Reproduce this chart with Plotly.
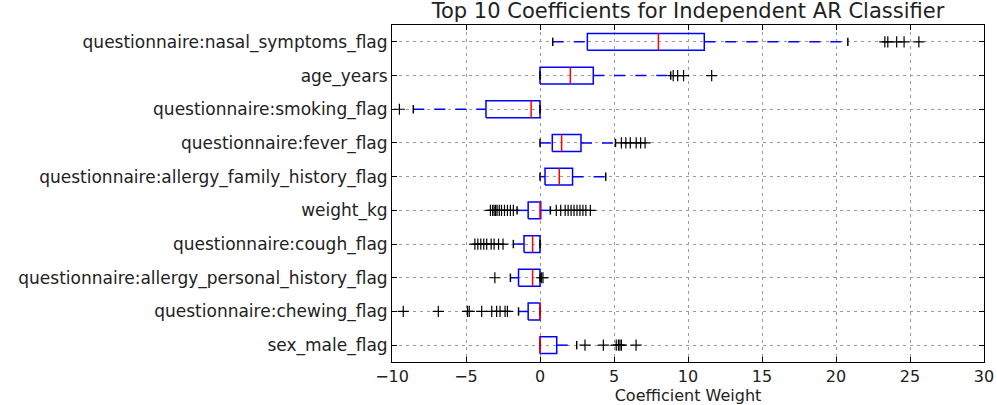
import plotly.graph_objects as go

# ---- data (top row first, as displayed) ----
features = [
    "questionnaire:nasal_symptoms_flag",
    "age_years",
    "questionnaire:smoking_flag",
    "questionnaire:fever_flag",
    "questionnaire:allergy_family_history_flag",
    "weight_kg",
    "questionnaire:cough_flag",
    "questionnaire:allergy_personal_history_flag",
    "questionnaire:chewing_flag",
    "sex_male_flag",
]
whisker_low = [0.86, 0.0, -8.56, 0.0, 0.0, -1.55, -1.8, -2.0, -1.45, 0.0]
q1 = [3.2, 0.0, -3.65, 0.83, 0.34, -0.8, -1.08, -1.45, -0.8, 0.0]
median = [8.0, 2.05, -0.6, 1.46, 1.3, 0.0, -0.5, -0.5, 0.0, 0.0]
q3 = [11.1, 3.6, 0.0, 2.77, 2.2, 0.05, 0.0, 0.0, 0.0, 1.13]
whisker_high = [20.8, 8.83, 0.0, 5.1, 4.44, 0.7, 0.0, 0.0, 0.0, 2.48]
outliers = [
    [23.3, 23.5, 24.1, 24.6, 25.6],
    [9.0, 9.3, 9.7, 11.6],
    [-9.5],
    [5.5, 5.8, 6.1, 6.5, 6.8, 7.1],
    [],
    [-3.35, -3.2, -3.1, -3.0, -2.9, -2.75, -2.6, -2.4, -2.2, -2.0, -1.8,
     1.1, 1.4, 1.7, 1.9, 2.1, 2.3, 2.5, 2.7, 2.9, 3.1, 3.4],
    [-4.4, -4.2, -4.0, -3.8, -3.6, -3.3, -3.1, -2.8, -2.5],
    [-3.05, 0.1, 0.2],
    [-9.24, -6.87, -4.9, -4.78, -3.94, -3.26, -2.93, -2.7, -2.36, -2.2],
    [3.04, 4.28, 5.15, 5.3, 5.4, 5.5, 6.49],
]
x_ticks = [-10, -5, 0, 5, 10, 15, 20, 25, 30]

title_text = "Top 10 Coefficients for Independent AR Classifier"
x_title = "Coefficient Weight"

# ---- build geometry ----
n = len(features)
pos = [n - i for i in range(n)]
half_box = 0.25
half_cap = 0.125

box_x, box_y = [], []
wh_x, wh_y = [], []
cap_x, cap_y = [], []
med_x, med_y = [], []
out_x, out_y = [], []
for i in range(n):
    p = pos[i]
    box_x += [q1[i], q3[i], q3[i], q1[i], q1[i], None]
    box_y += [p - half_box, p - half_box, p + half_box, p + half_box, p - half_box, None]
    wh_x += [whisker_low[i], q1[i], None, q3[i], whisker_high[i], None]
    wh_y += [p, p, None, p, p, None]
    for w in (whisker_low[i], whisker_high[i]):
        cap_x += [w, w, None]
        cap_y += [p - half_cap, p + half_cap, None]
    med_x += [median[i], median[i], None]
    med_y += [p - half_box, p + half_box, None]
    for o in outliers[i]:
        out_x.append(o)
        out_y.append(p)

fig = go.Figure()
fig.add_trace(go.Scatter(x=wh_x, y=wh_y, mode="lines",
                         line=dict(color="#0000ff", width=1.5, dash="11px,10px"),
                         hoverinfo="skip", showlegend=False))
fig.add_trace(go.Scatter(x=box_x, y=box_y, mode="lines",
                         line=dict(color="#0000ff", width=1.5),
                         hoverinfo="skip", showlegend=False))
fig.add_trace(go.Scatter(x=cap_x, y=cap_y, mode="lines",
                         line=dict(color="#000000", width=1.5),
                         hoverinfo="skip", showlegend=False))
fig.add_trace(go.Scatter(x=med_x, y=med_y, mode="lines",
                         line=dict(color="#ff0000", width=1.5),
                         hoverinfo="skip", showlegend=False))
fig.add_trace(go.Scatter(x=out_x, y=out_y, mode="markers",
                         marker=dict(symbol="cross-thin", size=8,
                                     line=dict(color="#000000", width=1.2)),
                         hoverinfo="skip", showlegend=False))

font_family = "DejaVu Sans"
fig.update_layout(
    template="none",
    width=997, height=405,
    margin=dict(l=392, r=13, t=25, b=43, autoexpand=False),
    paper_bgcolor="white", plot_bgcolor="white",
    font=dict(family=font_family, size=17, color="#222222"),
    title=dict(text=title_text, x=0.5, xref="paper", xanchor="center",
               y=1 - 11 / 405, yref="container", yanchor="middle",
               font=dict(family=font_family, size=21, color="#222222")),
    showlegend=False,
)
fig.update_xaxes(
    range=[-10, 30], tickvals=x_ticks, automargin=False,
    showline=True, linecolor="black", linewidth=1, mirror="allticks",
    ticks="inside", ticklen=5, tickcolor="black",
    showgrid=True, gridcolor="#9a9a9a", gridwidth=1, griddash="3px,4px",
    zeroline=False,
    title=dict(text=x_title, standoff=9, font=dict(size=16)),
    tickfont=dict(size=16),
)
fig.update_yaxes(
    range=[0.5, n + 0.5], tickvals=pos, ticktext=features, automargin=False,
    showline=True, linecolor="black", linewidth=1, mirror="allticks",
    ticks="inside", ticklen=5, tickcolor="black",
    showgrid=True, gridcolor="#9a9a9a", gridwidth=1, griddash="3px,4px",
    zeroline=False,
    tickfont=dict(size=17),
)

fig.write_html("out.html")
